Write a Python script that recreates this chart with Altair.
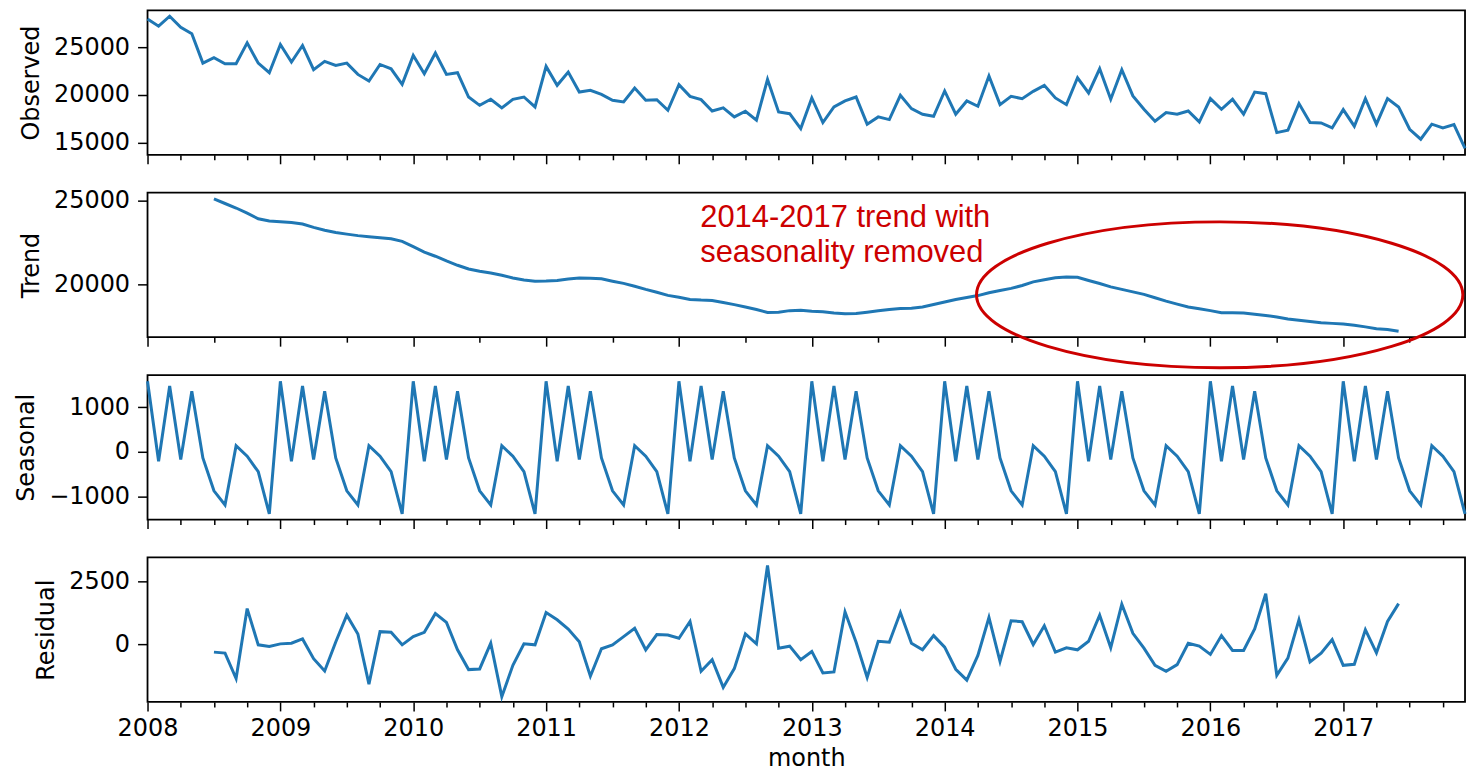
import altair as alt
import pandas as pd

# ---------------- data ----------------
months = pd.date_range("2008-01-01", "2017-12-01", freq="MS")

observed = [27950, 27190, 28230, 27080, 26390, 23330, 23890, 23260, 23260, 25450, 23330, 22330,
            25280, 23440, 25170, 22640, 23510, 23090, 23330, 22150, 21460, 23190, 22740, 21110,
            24130, 22220, 24380, 22150, 22330, 19790, 18920, 19550, 18650, 19550, 19790, 18750,
            22990, 21010, 22400, 20310, 20490, 20070, 19450, 19270, 20730, 19450, 19510, 18400,
            21080, 19860, 19510, 18330, 18650, 17710, 18300, 17360, 21640, 18230, 18050, 16490,
            19690, 17120, 18750, 19380, 19790, 16950, 17710, 17430, 19970, 18580, 17990, 17780,
            20420, 17990, 19380, 18820, 21980, 18990, 19860, 19620, 20380, 21010, 19690, 18990,
            21800, 20210, 22740, 19550, 22640, 19900, 18510, 17260, 18160, 17990, 18330, 17190,
            19620, 18510, 19550, 17990, 20310, 20140, 16070, 16320, 19100, 17120, 17080, 16560,
            18470, 16740, 19620, 16950, 19620, 18750, 16420, 15380, 16950, 16560, 16910, 14410]

# trend: Jul 2008 .. Jun 2017 (first and last six months undefined)
trend_core = [25100, 24830, 24560, 24250, 23920, 23780,
              23740, 23700, 23600, 23400, 23230, 23100, 23000, 22910, 22850, 22780, 22720, 22570,
              22250, 21920, 21680, 21400, 21140, 20920, 20780, 20680, 20540, 20380, 20260, 20190,
              20200, 20230, 20320, 20380, 20370, 20330, 20190, 20060, 19890, 19700, 19530, 19340,
              19230, 19100, 19060, 19040, 18920, 18790, 18650, 18500, 18320, 18330, 18430, 18460,
              18400, 18370, 18290, 18240, 18260, 18340, 18420, 18500, 18560, 18580, 18650, 18800,
              18950, 19100, 19220, 19330, 19500, 19630, 19760, 19930, 20150, 20280, 20400, 20440,
              20420, 20230, 20050, 19850, 19700, 19550, 19400, 19200, 19000, 18820, 18650, 18540,
              18430, 18300, 18310, 18290, 18210, 18140, 18050, 17930, 17860, 17780, 17710, 17670,
              17630, 17560, 17460, 17350, 17300, 17200]

seasonal_year = [1587, -207, 1482, -170, 1364, -133, -873, -1191, 142, -96, -444, -1391]

resid_core = [-300, -339, -1341, 1419, -13, -78,
              26, 52, 221, -560, -1042, 100, 1159, 417, -1563, 508, 482, -13,
              312, 482, 1224, 872, -208, -990, -964, 52, -2057, -820, 26, -13,
              1263, 977, 612, 110, -1250, -169, -13, 312, 638, -208, 391, 372,
              247, 912, -1055, -599, -1693, -951, 417, 26, 3125, -143, -65, -599,
              -273, -1120, -1081, 1289, 91, -1302, 130, 91, 1263, 52, -208, 352,
              -104, -977, -1406, -430, 1068, -664, 938, 899, 0, 742, -300, -130,
              -208, 130, 1159, -130, 1589, 443, -143, -820, -1055, -794, 52, -65,
              -391, 352, -234, -234, 612, 2005, -1211, -534, 977, -690, -339, 195,
              -820, -781, 586, -326, 912, 1615]

pad6 = [None] * 6
trend = pad6 + trend_core + pad6
resid = pad6 + resid_core + pad6
seasonal = seasonal_year * 10

df = pd.DataFrame({
    "t": [d.year + (d.month - 1) / 12 for d in months],
    "Observed": observed,
    "Trend": trend,
    "Seasonal": seasonal,
    "Residual": resid,
})

annot_text = ["2014-2017 trend with", "seasonality removed"]
annot_df = pd.DataFrame({"t": [2012.16], "Trend": [23452]})
ellipse_df = pd.DataFrame({"t": [2016.07], "Trend": [19375]})

x_ticks = [2008 + q / 4 for q in range(40)]
x_domain = [2008, 2017 + 11 / 12]

FONT = "DejaVu Sans"
BLUE = "#1f77b4"
RED = "#cc0000"
W, H = 1322, 145


def x_axis(bottom):
    return alt.Axis(
        values=x_ticks,
        labelExpr="datum.value % 1 === 0 ? format(datum.value, 'd') : ''",
        tickSize={"condition": {"test": "datum.value % 1 === 0", "value": 9}, "value": 5},
        labels=bottom,
        labelFlush=False,
        labelPadding=6,
        titlePadding=6,
    )


def panel(field, ydomain, yticks, bottom):
    xenc = alt.X("t:Q", scale=alt.Scale(domain=x_domain, nice=False, zero=False),
                 axis=x_axis(bottom), title="month" if bottom else None)
    yenc = alt.Y(f"{field}:Q", scale=alt.Scale(domain=ydomain, nice=False, zero=False),
                 axis=alt.Axis(values=yticks, format="d", tickSize=10, labelPadding=8,
                               titlePadding=10),
                 title=field)
    return alt.Chart(df).mark_line(color=BLUE, strokeWidth=3).encode(x=xenc, y=yenc)


obs = panel("Observed", [13750, 28850], [15000, 20000, 25000], False).properties(width=W, height=H)

tr_line = panel("Trend", [16845, 25476], [20000, 25000], False)
tr_text = alt.Chart(annot_df).mark_text(
    text=annot_text, align="left", baseline="alphabetic", font="Liberation Sans",
    fontSize=31, lineHeight=36, color=RED
).encode(x="t:Q", y="Trend:Q")
tr_ell = alt.Chart(ellipse_df).mark_point(
    shape="M -1 0 A 1 0.3 0 1 1 1 0 A 1 0.3 0 1 1 -1 0 Z",
    size=238144, filled=False, stroke=RED, strokeWidth=3, opacity=1
).encode(x="t:Q", y="Trend:Q")
tre = alt.layer(tr_line, tr_text, tr_ell).properties(width=W, height=H)

sea = panel("Seasonal", [-1518, 1727], [-1000, 0, 1000], False).properties(width=W, height=H)
res = panel("Residual", [-2266, 3437], [0, 2500], True).properties(width=W, height=H)

chart = alt.vconcat(obs, tre, sea, res, spacing=38, bounds="flush").properties(
    padding={"left": 5, "top": 0, "right": 0, "bottom": 0}
).configure_view(
    stroke="black", strokeWidth=1.8
).configure_axis(
    labelFont=FONT, labelFontSize=24, labelColor="black",
    titleFont=FONT, titleFontSize=24, titleFontWeight="normal", titleColor="black",
    tickColor="black", tickWidth=1.5, domain=False, grid=False
)

chart.save("out.html", embed_options={"renderer": "svg", "actions": False})
